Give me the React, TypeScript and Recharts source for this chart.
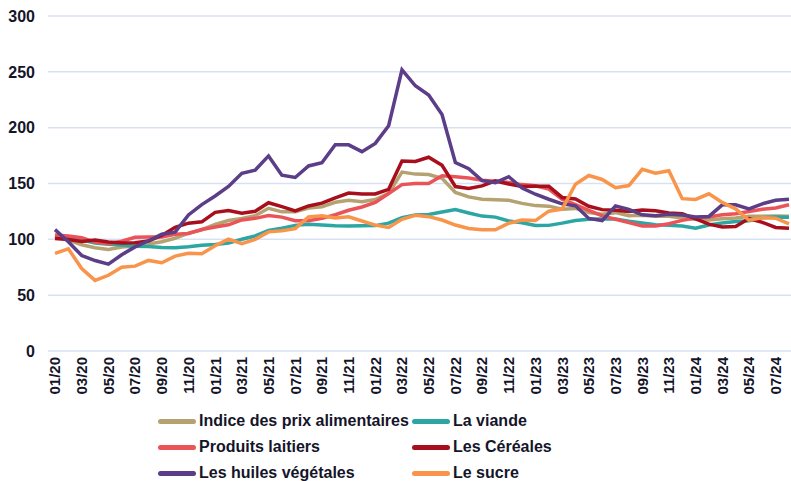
import React from 'react';
import { LineChart, Line, XAxis, YAxis, CartesianGrid } from 'recharts';

const months = [
  '01/20', '02/20', '03/20', '04/20', '05/20', '06/20', '07/20', '08/20', '09/20', '10/20', '11/20', '12/20',
  '01/21', '02/21', '03/21', '04/21', '05/21', '06/21', '07/21', '08/21', '09/21', '10/21', '11/21', '12/21',
  '01/22', '02/22', '03/22', '04/22', '05/22', '06/22', '07/22', '08/22', '09/22', '10/22', '11/22', '12/22',
  '01/23', '02/23', '03/23', '04/23', '05/23', '06/23', '07/23', '08/23', '09/23', '10/23', '11/23', '12/23',
  '01/24', '02/24', '03/24', '04/24', '05/24', '06/24', '07/24', '08/24',
];

const indice = [
  102.5, 99.4, 95.1, 92.4, 91.0, 93.1, 94.0, 95.9, 97.8, 101.0, 105.6, 108.6,
  113.3, 116.9, 118.7, 121.2, 127.8, 124.6, 124.6, 128.0, 129.2, 133.2, 135.0, 133.7,
  135.6, 141.1, 160.2, 158.4, 158.1, 154.7, 142.0, 138.0, 136.0, 135.4, 135.0, 132.2,
  130.2, 129.7, 127.0, 127.7, 124.0, 122.4, 123.9, 121.1, 121.5, 120.7, 120.6, 119.1,
  117.9, 117.3, 118.5, 119.1, 120.6, 120.6, 120.8, 120.7,
];

const viande = [
  102.2, 100.7, 99.6, 96.7, 95.5, 95.0, 93.9, 93.5, 92.6, 92.5, 93.3, 94.7,
  95.4, 96.6, 100.1, 103.0, 108.0, 110.0, 112.5, 113.6, 112.8, 112.1, 112.0, 112.2,
  112.3, 114.5, 119.4, 121.9, 122.2, 124.5, 126.6, 123.6, 120.8, 119.9, 116.5, 114.9,
  112.4, 112.5, 114.5, 116.8, 118.0, 118.2, 118.3, 116.3, 114.6, 113.0, 112.5, 111.9,
  109.9, 112.9, 114.7, 116.0, 116.7, 119.3, 120.0, 119.7,
];

const laitiers = [
  103.8, 102.9, 101.5, 97.5, 96.0, 98.3, 101.8, 102.0, 102.1, 104.5, 105.3, 108.8,
  111.0, 113.0, 117.4, 118.8, 121.3, 119.9, 116.6, 116.6, 118.8, 122.0, 126.0, 129.0,
  133.0, 141.0, 149.0, 150.0, 150.0, 157.0, 156.0, 155.0, 153.0, 152.0, 151.0, 149.0,
  148.0, 145.0, 136.0, 131.0, 126.0, 121.0, 118.0, 115.0, 112.0, 112.0, 114.0, 117.0,
  119.0, 120.0, 122.0, 123.0, 125.0, 127.0, 128.0, 131.0,
];

const cereales = [
  100.8, 99.8, 98.1, 99.4, 97.6, 96.8, 96.9, 98.5, 103.5, 110.8, 114.5, 115.7,
  124.2, 125.7, 123.4, 125.1, 132.8, 129.3, 125.5, 129.9, 132.4, 137.1, 141.4, 140.5,
  140.6, 144.8, 170.1, 169.8, 173.5, 166.3, 147.3, 145.6, 147.9, 152.3, 149.5, 147.3,
  147.5, 147.6, 137.5, 136.2, 129.6, 126.6, 126.0, 125.0, 126.3, 125.5, 123.6, 123.0,
  118.4, 113.6, 111.0, 111.4, 118.6, 115.2, 110.6, 110.0,
];

const huiles = [
  108.7, 97.9, 85.5, 81.0, 77.8, 86.2, 93.2, 98.7, 104.6, 106.4, 121.9, 131.1,
  138.8, 147.4, 159.2, 162.0, 174.7, 157.5, 155.4, 165.7, 168.6, 184.8, 184.6, 178.5,
  185.9, 201.7, 251.8, 237.5, 229.3, 211.8, 168.8, 163.3, 152.6, 150.8, 156.1, 146.0,
  140.4, 135.9, 131.8, 130.0, 118.7, 116.8, 129.9, 126.8, 122.0, 121.1, 122.4, 121.7,
  120.0, 120.5, 130.9, 130.9, 127.2, 131.8, 135.0, 136.0,
];

const sucre = [
  87.5, 91.5, 73.9, 63.2, 67.8, 75.0, 76.0, 81.1, 79.0, 85.0, 87.5, 87.0,
  94.2, 100.2, 96.2, 100.0, 106.7, 107.7, 109.6, 120.1, 121.2, 119.1, 120.2, 116.4,
  112.7, 110.6, 117.9, 121.5, 120.3, 117.3, 112.8, 109.7, 108.6, 108.6, 114.4, 117.2,
  116.8, 125.2, 127.0, 149.4, 157.2, 153.6, 146.3, 148.2, 162.7, 159.2, 161.4, 136.4,
  135.7, 140.8, 133.1, 127.3, 117.1, 119.4, 118.9, 113.9,
];

const yTicks = [0, 50, 100, 150, 200, 250, 300];

const series = [
  { key: 'indice', name: 'Indice des prix alimentaires', color: '#b5a271' },
  { key: 'viande', name: 'La viande', color: '#2ba6a3' },
  { key: 'laitiers', name: 'Produits laitiers', color: '#ea5459' },
  { key: 'cereales', name: 'Les Céréales', color: '#a80f1c' },
  { key: 'huiles', name: 'Les huiles végétales', color: '#5b3d88' },
  { key: 'sucre', name: 'Le sucre', color: '#f8954a' },
];

const data = months.map((m, i) => ({
  month: m,
  indice: indice[i],
  viande: viande[i],
  laitiers: laitiers[i],
  cereales: cereales[i],
  huiles: huiles[i],
  sucre: sucre[i],
}));

const FONT = '"Liberation Sans", Arial, sans-serif';
const TEXT = '#15152a';

const MonthTick = (props: any) => {
  const { x, y, payload } = props;
  return (
    <g transform={`translate(${x},${y})`}>
      <text
        transform="rotate(-90)"
        textAnchor="end"
        dy="0.36em"
        fontFamily={FONT}
        fontWeight="bold"
        fontSize={15}
        fill={TEXT}
      >
        {payload.value}
      </text>
    </g>
  );
};

const LegendItem = ({ name, color }: { name: string; color: string }) => (
  <div style={{ display: 'flex', alignItems: 'center', height: 26 }}>
    <span
      style={{ display: 'inline-block', width: 38, height: 5, borderRadius: 3, background: color, marginRight: 3 }}
    />
    <span style={{ fontFamily: FONT, fontWeight: 'bold', fontSize: 16, color: TEXT, whiteSpace: 'nowrap' }}>
      {name}
    </span>
  </div>
);

export default function App() {
  return (
    <div style={{ position: 'absolute', left: 0, top: 0, width: 791, height: 481, background: '#fff' }}>
      <LineChart width={791} height={481} data={data} margin={{ top: 16, right: 0, left: 0, bottom: 80 }}>
        <CartesianGrid vertical={false} stroke="#d8e1f4" strokeWidth={1.5} />
        <XAxis
          dataKey="month"
          interval={1}
          height={50}
          axisLine={false}
          tickLine={false}
          padding={{ left: 7, right: 2 }}
          tick={<MonthTick />}
          tickSize={0}
          tickMargin={6}
        />
        <YAxis
          domain={[0, 300]}
          ticks={yTicks}
          width={48}
          axisLine={false}
          tickLine={false}
          tickSize={0}
          tickMargin={13}
          tick={{ fontFamily: FONT, fontWeight: 'bold', fontSize: 16, fill: TEXT }}
        />
        {series.map((s) => (
          <Line
            key={s.key}
            type="linear"
            dataKey={s.key}
            name={s.name}
            stroke={s.color}
            strokeWidth={3.5}
            dot={false}
            activeDot={false}
            isAnimationActive={false}
          />
        ))}
      </LineChart>
      <div
        style={{
          position: 'absolute',
          left: 158,
          top: 408,
          display: 'grid',
          gridTemplateColumns: '254px auto',
        }}
      >
        {series.map((s) => (
          <LegendItem key={s.key} name={s.name} color={s.color} />
        ))}
      </div>
    </div>
  );
}
